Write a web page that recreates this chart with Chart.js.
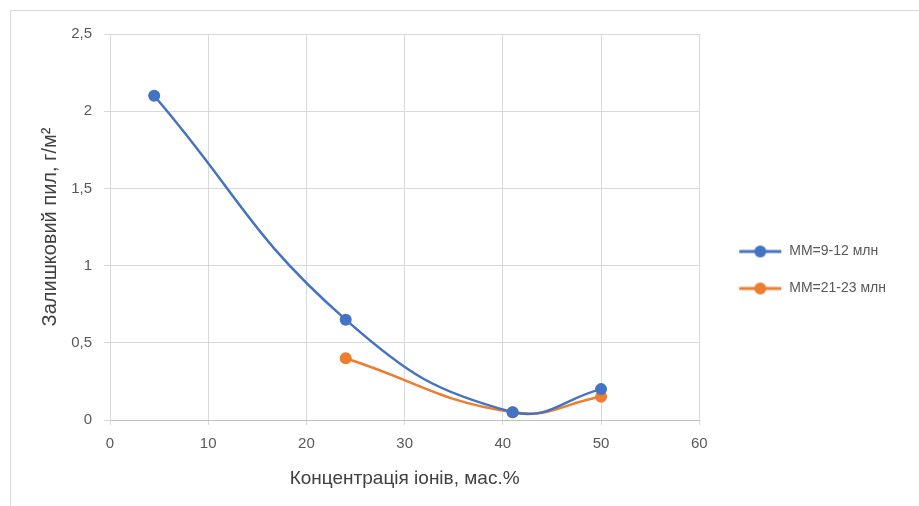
<!DOCTYPE html>
<html>
<head>
<meta charset="utf-8">
<script src="https://cdn.jsdelivr.net/npm/chart.js@4.4.0/dist/chart.umd.min.js"></script>
<style>
  html, body { margin: 0; padding: 0; background: #fff; overflow: hidden; }
  #frame { position: absolute; left: 10px; top: 10px; width: 1000px; height: 600px; border: 1px solid #d9d9d9; }
  #wrap { position: absolute; left: 0; top: 0; width: 919px; height: 506px; }
</style>
</head>
<body>
<div id="frame"></div>
<div id="wrap"><canvas id="chart" width="919" height="506"></canvas></div>
<script>
// Excel-style scatter, smoothed lines
var seriesNames = ["ММ=9-12 млн", "ММ=21-23 млн"];
var blueX = [4.5, 24, 41, 50];
var blueY = [2.1, 0.65, 0.05, 0.2];
var orangeX = [24, 41, 50];
var orangeY = [0.4, 0.05, 0.15];
var xTitle = "Концентрація іонів, мас.%";
var yTitle = "Залишковий пил, г/м²";

var BLUE = "#4472C4";
var ORANGE = "#ED7D31";
var GRID = "#d9d9d9";
var TXT = "#595959";

function pts(xs, ys) {
    return xs.map(function (x, i) { return { x: x, y: ys[i] }; });
}

// line + dot icon, with empty room on the left so the legend sits further right
function legendIcon(color) {
    var c = document.createElement("canvas");
    c.width = 60; c.height = 14;
    var g = c.getContext("2d");
    g.strokeStyle = color; g.lineWidth = 3;
    g.beginPath(); g.moveTo(17, 7); g.lineTo(59, 7); g.stroke();
    g.fillStyle = color;
    g.beginPath(); g.arc(38, 7, 6, 0, Math.PI * 2); g.fill();
    return c;
}

function comma(v) { return String(v).replace(".", ","); }

var ds = [
    { label: seriesNames[0], data: pts(blueX, blueY), color: BLUE },
    { label: seriesNames[1], data: pts(orangeX, orangeY), color: ORANGE }
].map(function (d) {
    return {
        label: d.label,
        data: d.data,
        showLine: true,
        tension: 0.45,
        borderColor: d.color,
        backgroundColor: d.color,
        borderWidth: 2.5,
        pointRadius: 6,
        pointHoverRadius: 6,
        pointStyle: "circle",
        pointBorderWidth: 0,
        legendIcon: legendIcon(d.color)
    };
});

var chart = new Chart(document.getElementById("chart").getContext("2d"), {
    type: "scatter",
    data: { datasets: ds },
    options: {
        responsive: false,
        animation: false,
        layout: { padding: { top: 34, right: 23, bottom: 0, left: 0 } },
        plugins: {
            tooltip: { enabled: false },
            legend: {
                position: "right",
                labels: {
                    usePointStyle: true,
                    pointStyleWidth: 60,
                    color: TXT,
                    padding: 23,
                    font: { family: "Liberation Sans, Arial, sans-serif", size: 14 },
                    generateLabels: function (ch) {
                        return ch.data.datasets.map(function (d, i) {
                            return {
                                text: d.label,
                                pointStyle: d.legendIcon,
                                fillStyle: d.borderColor,
                                strokeStyle: d.borderColor,
                                lineWidth: 0,
                                fontColor: TXT,
                                datasetIndex: i,
                                hidden: false
                            };
                        });
                    }
                }
            }
        },
        scales: {
            x: {
                type: "linear",
                min: 0, max: 60,
                ticks: { stepSize: 10, color: TXT, padding: 10, font: { family: "Liberation Sans, Arial, sans-serif", size: 15 } },
                grid: { color: GRID, tickLength: 5 },
                border: { color: "#bfbfbf" },
                title: {
                    display: true, text: xTitle, color: "#404040",
                    font: { family: "Liberation Sans, Arial, sans-serif", size: 19 },
                    padding: { top: 4, bottom: 16 }
                },
                afterFit: function (s) { s.height = 86; }
            },
            y: {
                type: "linear",
                min: 0, max: 2.5,
                ticks: {
                    stepSize: 0.5, color: TXT, padding: 12,
                    font: { family: "Liberation Sans, Arial, sans-serif", size: 15 },
                    callback: function (v) { return comma(v); }
                },
                grid: { color: GRID, tickLength: 6 },
                border: { color: GRID },
                title: {
                    display: true, text: yTitle, color: "#404040",
                    font: { family: "Liberation Sans, Arial, sans-serif", size: 20 },
                    padding: { top: 38, bottom: 0 }
                },
                afterFit: function (s) { s.width = 110; }
            }
        }
    }
});
</script>
</body>
</html>
